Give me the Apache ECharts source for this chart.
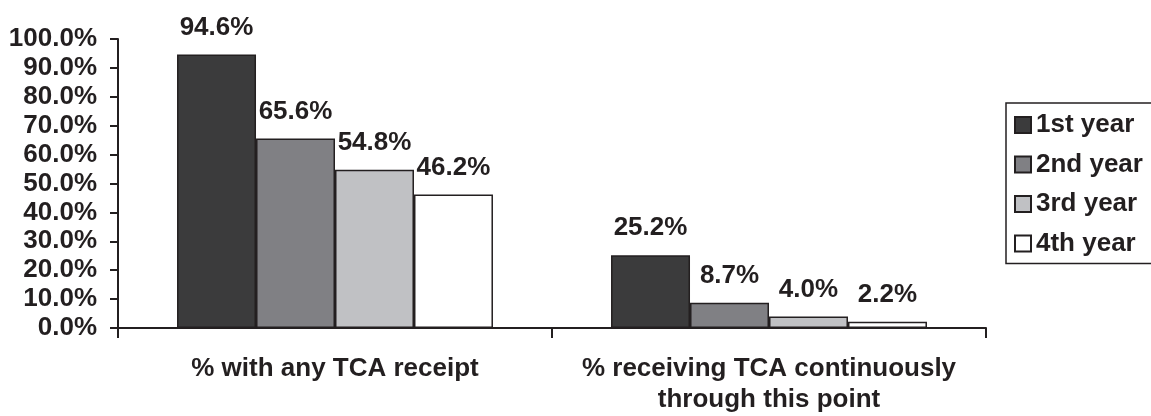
<!DOCTYPE html>
<html>
<head>
<meta charset="utf-8">
<script src="https://cdn.jsdelivr.net/npm/echarts@6/dist/echarts.min.js"></script>
<style>
  html, body { margin: 0; padding: 0; background: #ffffff; }
  #chart { width: 1151px; height: 416px; }
</style>
</head>
<body>
<div id="chart"></div>
<script>
// Categories on the x axis
const categories = ['% with any TCA receipt', '% receiving TCA continuously\nthrough this point'];
// Series names (legend)
const seriesNames = ['1st year', '2nd year', '3rd year', '4th year'];
// Percent values per series, one value per category
const year1 = [94.6, 25.2];
const year2 = [65.6, 8.7];
const year3 = [54.8, 4.0];
const year4 = [46.2, 2.2];
const seriesData = [year1, year2, year3, year4];
// Fill colours for each year
const fills = ['#3b3b3c', '#808084', '#c0c1c4', '#ffffff'];

const FONT = '"Liberation Sans", Arial, sans-serif';
const INK = '#231f20';
const FS = 26;

const chart = echarts.init(document.getElementById('chart'), null, { renderer: 'canvas' });

chart.setOption({
  backgroundColor: '#ffffff',
  animation: false,
  grid: { left: 118, right: 165, top: 39, bottom: 88, containLabel: false },
  legend: {
    orient: 'vertical',
    left: 1006,
    top: 103,
    padding: [9, 30, 7, 8],
    itemGap: 13.5,
    itemWidth: 16,
    itemHeight: 16,
    borderColor: INK,
    borderWidth: 1.5,
    borderRadius: 0,
    icon: 'rect',
    data: seriesNames,
    textStyle: { fontFamily: FONT, fontWeight: 'bold', fontSize: FS, color: INK, lineHeight: 26, padding: [0, 0, 0, 0] }
  },
  xAxis: {
    type: 'category',
    data: categories,
    boundaryGap: true,
    axisLine: { lineStyle: { color: INK, width: 2 } },
    axisTick: { show: true, length: 10, interval: 0, lineStyle: { color: INK, width: 2 } },
    axisLabel: {
      interval: 0,
      margin: 25,
      fontFamily: FONT, fontWeight: 'bold', fontSize: FS, color: INK, lineHeight: 31,
      verticalAlign: 'top'
    },
    splitLine: { show: false }
  },
  yAxis: {
    type: 'value',
    min: 0, max: 100, interval: 10,
    axisLine: { show: true, lineStyle: { color: INK, width: 2 } },
    axisTick: { show: true, length: 8, inside: false, lineStyle: { color: INK, width: 2 } },
    axisLabel: {
      margin: 21,
      fontFamily: FONT, fontWeight: 'bold', fontSize: FS, color: INK,
      formatter: v => v.toFixed(1) + '%'
    },
    splitLine: { show: false }
  },
  series: seriesNames.map((name, i) => ({
    name: name,
    type: 'bar',
    data: seriesData[i],
    barGap: '0%',
    barCategoryGap: '27.2%',
    itemStyle: { color: fills[i], borderColor: INK, borderWidth: 1.5 },
    label: {
      show: true,
      position: 'top',
      distance: 14,
      fontFamily: FONT, fontWeight: 'bold', fontSize: FS, color: INK,
      formatter: p => p.value.toFixed(1) + '%'
    }
  }))
});
</script>
</body>
</html>
